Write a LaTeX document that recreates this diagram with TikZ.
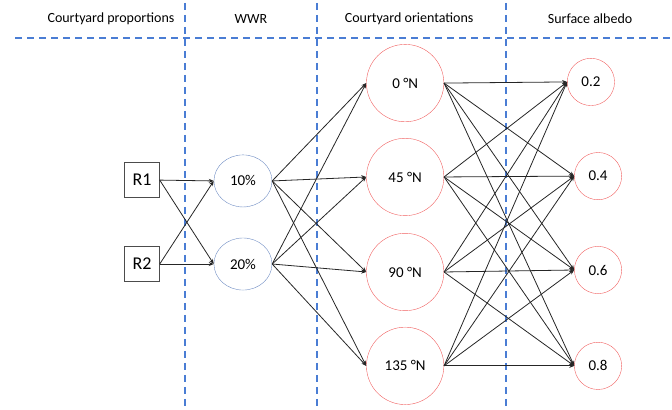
\documentclass[tikz,border=0pt]{standalone}
\usepackage{fontspec}
\setmainfont{Carlito}
\usepackage{xcolor}
\usetikzlibrary{arrows.meta,shapes.geometric}
\definecolor{dashblue}{RGB}{74,125,212}
\definecolor{ringred}{RGB}{240,96,96}
\definecolor{ringblue}{RGB}{110,140,195}

\begin{document}
\begin{tikzpicture}[%
% common options for the headings:
head/.style = {anchor=center, inner sep=0, font=\fontsize{14}{16}\selectfont},
% common options for the dashed separators:
divider/.style = {dashblue, line width=1.4pt, dash pattern=on 7pt off 5pt},
% common options for the nodes:
ratio/.style = {draw=black!70, thick, minimum size=1.22cm, inner sep=0,
            font=\fontsize{18}{20}\selectfont},
wwr/.style = {ellipse, draw=ringblue, minimum width=2.04cm, minimum height=1.83cm,
            inner sep=0, font=\fontsize{15}{17}\selectfont},
orient/.style = {circle, draw=ringred, minimum size=2.72cm, inner sep=0,
            font=\fontsize{15}{17}\selectfont},
albedo/.style = {circle, draw=ringred, minimum size=1.66cm, inner sep=0,
            font=\fontsize{15}{17}\selectfont},
% common options for the arrows:
link/.style = {-{Stealth[length=5pt,width=4pt]}, black!85, line width=0.8pt}]
\useasboundingbox (0,0) rectangle (23.62,-14.41);
\node[head] (H1) at (3.90,-0.67) {Courtyard proportions};
\node[head] (H2) at (8.82,-0.67) {WWR};
\node[head] (H3) at (14.38,-0.67) {Courtyard orientations};
\node[head] (H4) at (20.74,-0.67) {Surface albedo};
\draw[divider] (0.53,-1.34) -- (23.62,-1.34);
\draw[divider] (6.50,-0.1) -- (6.50,-14.41);
\draw[divider] (11.14,-0.1) -- (11.14,-14.41);
\draw[divider] (17.79,-0.1) -- (17.79,-14.41);
\node[ratio] (R1) at (4.99,-6.33) {R1};
\node[ratio] (R2) at (4.99,-9.28) {R2};
\node[wwr] (W1) at (8.54,-6.36) {10\%};
\node[wwr] (W2) at (8.54,-9.28) {20\%};
\node[orient] (O1) at (14.24,-2.92) {0 °N};
\node[orient] (O2) at (14.24,-6.22) {45 °N};
\node[orient] (O3) at (14.24,-9.56) {90 °N};
\node[orient] (O4) at (14.24,-12.86) {135 °N};
\node[albedo] (S1) at (20.77,-2.88) {0.2};
\node[albedo] (S2) at (21.02,-6.19) {0.4};
\node[albedo] (S3) at (21.02,-9.49) {0.6};
\node[albedo] (S4) at (21.02,-12.86) {0.8};
\draw[link] (R1.east) to (W1.west);
\draw[link] (R1.east) to (W2.west);
\draw[link] (R2.east) to (W1.west);
\draw[link] (R2.east) to (W2.west);
\draw[link] (W1.east) to (O1.west);
\draw[link] (W1.east) to (O2.west);
\draw[link] (W1.east) to (O3.west);
\draw[link] (W1.east) to (O4.west);
\draw[link] (W2.east) to (O1.west);
\draw[link] (W2.east) to (O2.west);
\draw[link] (W2.east) to (O3.west);
\draw[link] (W2.east) to (O4.west);
\draw[link] (O1.east) to (S1.west);
\draw[link] (O1.east) to (S2.west);
\draw[link] (O1.east) to (S3.west);
\draw[link] (O1.east) to (S4.west);
\draw[link] (O2.east) to (S1.west);
\draw[link] (O2.east) to (S2.west);
\draw[link] (O2.east) to (S3.west);
\draw[link] (O2.east) to (S4.west);
\draw[link] (O3.east) to (S1.west);
\draw[link] (O3.east) to (S2.west);
\draw[link] (O3.east) to (S3.west);
\draw[link] (O3.east) to (S4.west);
\draw[link] (O4.east) to (S1.west);
\draw[link] (O4.east) to (S2.west);
\draw[link] (O4.east) to (S3.west);
\draw[link] (O4.east) to (S4.west);
\end{tikzpicture}
\end{document}
